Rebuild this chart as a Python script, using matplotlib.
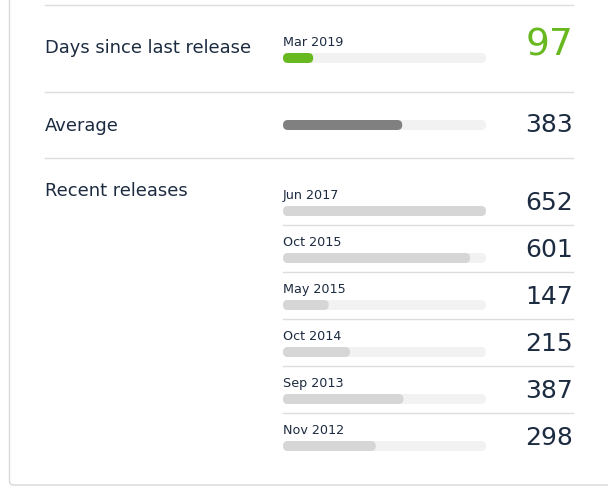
import matplotlib
matplotlib.use('Agg')
import matplotlib.pyplot as plt
from matplotlib.patches import FancyBboxPatch

# Datos
ultima_fecha = 'Mar 2019'
dias_desde_ultima = 97
promedio = 383
fechas = ['Jun 2017', 'Oct 2015', 'May 2015', 'Oct 2014', 'Sep 2013', 'Nov 2012']
dias = [652, 601, 147, 215, 387, 298]

# Colores
texto = '#1c2b40'
verde = '#67b91f'
gris = '#808080'
gris_claro = '#d6d6d6'
pista = '#f2f2f2'
linea = '#dcdcdc'

fig = plt.figure(figsize=(6.08, 4.88), dpi=100)
ax = fig.add_axes([0, 0, 1, 1])
ax.set_xlim(0, 608)
ax.set_ylim(488, 0)
ax.axis('off')

# escala de las barras
x0, ancho = 283, 203
vmax = max(dias)


def escala(v):
    return v / vmax * ancho


def barra(y, valor, color):
    ax.add_patch(FancyBboxPatch((x0, y - 5), ancho, 10, boxstyle='round,pad=0,rounding_size=5',
                                fc=pista, ec='none'))
    w = escala(valor)
    ax.add_patch(FancyBboxPatch((x0, y - 5), w, 10, boxstyle='round,pad=0,rounding_size=5',
                                fc=color, ec='none'))


# marco de la tarjeta
ax.add_patch(FancyBboxPatch((9.5, -20), 640, 505, boxstyle='round,pad=0,rounding_size=4',
                            fc='none', ec='#d9d9d9', lw=1))

# separadores
for y in [5, 92, 158]:
    ax.plot([45, 573], [y, y], color=linea, lw=1)

# Días desde el último lanzamiento
ax.text(45, 48, 'Days since last release', fontsize=12.9, color=texto, va='center')
ax.text(x0, 42, ultima_fecha, fontsize=9.2, color=texto, va='center')
barra(58, dias_desde_ultima, verde)
ax.text(573, 46, str(dias_desde_ultima), fontsize=27, color=verde, va='center', ha='right')

# Promedio
ax.text(45, 126, 'Average', fontsize=12.9, color=texto, va='center')
barra(125, promedio, gris)
ax.text(573, 125, str(promedio), fontsize=18, color=texto, va='center', ha='right')

# Lanzamientos recientes
ax.text(45, 191, 'Recent releases', fontsize=12.9, color=texto, va='center')
for i, (f, d) in enumerate(zip(fechas, dias)):
    yb = 211 + i * 47
    ax.text(x0, yb - 15, f, fontsize=9.2, color=texto, va='center')
    barra(yb, d, gris_claro)
    ax.text(573, yb - 8, str(d), fontsize=18, color=texto, va='center', ha='right')
    if i < len(fechas) - 1:
        ax.plot([x0, 573], [yb + 14, yb + 14], color=linea, lw=1)

plt.savefig('out.png', dpi=100)
